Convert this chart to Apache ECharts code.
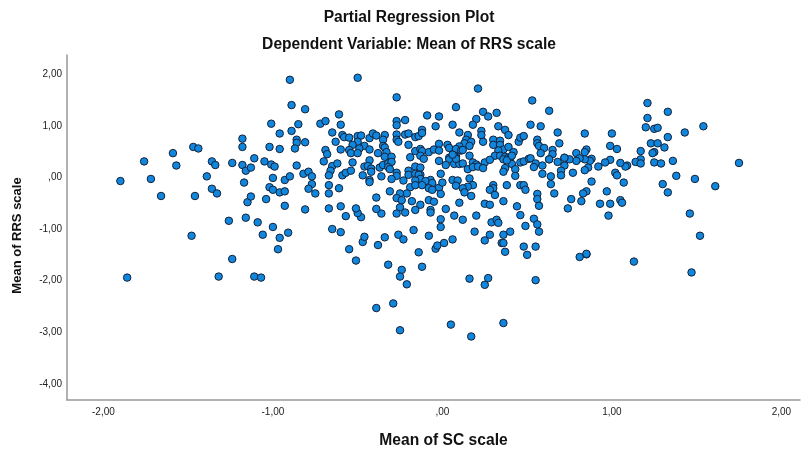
<!DOCTYPE html>
<html><head><meta charset="utf-8">
<style>html,body{margin:0;padding:0;background:#fff}#c{width:810px;height:451px}</style>
<script src="https://cdn.jsdelivr.net/npm/echarts@6/dist/echarts.min.js"></script>
</head><body><div id="c"></div>
<script>
const titleLines = ["Partial Regression Plot", "Dependent Variable: Mean of RRS scale"];
const xName = "Mean of SC scale";
const yName = "Mean of RRS scale";
const xTicks = [-2, -1, 0, 1, 2];
const yTicks = [-4, -3, -2, -1, 0, 1, 2];
const leftPoints = [
[-1.90,-0.07],[-1.76,0.31],[-1.72,-0.03],[-1.66,-0.36],[-1.59,0.47],[-1.57,0.23],[-1.48,-1.13],[-1.47,0.59],[-1.44,0.56],[-1.46,-0.36],
[-1.39,0.02],[-1.36,-0.22],[-1.33,-0.31],[-1.36,0.31],[-1.34,0.24],[-1.26,-0.84],[-1.24,0.28],[-1.18,0.59],[-1.18,0.75],[-1.18,0.24],
[-1.16,0.13],[-1.17,-0.10],[-1.16,-0.78],[-1.15,-0.48],[-1.13,-0.37],[-1.13,0.19],[-1.11,0.37],[-1.09,-0.87],[-1.06,-1.11],[-1.05,0.31],
[-1.04,-0.42],[-1.02,0.59],[-1.01,1.04],[-1.01,0.25],[-0.99,0.21],[-1.00,-0.96],[-1.02,-0.19],[-1.00,-0.24],[-1.00,-0.01],[-0.96,0.55],
[-0.96,0.85],[-0.96,-0.29],[-0.93,-0.27],[-0.93,-0.05],[-0.93,-0.55],[-0.96,-1.17],[-0.91,-1.07],[-0.90,1.89],[-0.89,1.40],[-0.81,1.32],
[-0.85,1.03],[-0.89,0.90],[-0.86,0.73],[-0.86,0.67],[-0.81,0.68],[-0.87,0.56],[-0.86,0.23],[-0.90,0.02],[-0.82,0.07],[-0.79,0.11],
[-0.77,0.02],[-0.77,-0.13],[-0.79,-0.22],[-0.75,-0.31],[-0.81,-0.62],[-0.72,1.04],[-1.86,-1.94],[-1.24,-1.58],[-1.32,-1.92],[-1.11,-1.92],
[-1.07,-1.94],[-0.97,-1.39]
];
const lowerPoints = [
[-0.65,-1.00],[-0.60,-1.06],[-0.55,-1.39],[-0.51,-1.61],[-0.47,-1.25],[-0.46,-1.15],[-0.38,-1.31],[-0.34,-1.16],[-0.26,-1.11],[-0.23,-1.20],
[-0.17,-1.02],[-0.08,-1.13],[-0.14,-1.45],[-0.12,-1.73],[-0.32,-1.69],[-0.24,-1.79],[-0.25,-1.92],[-0.21,-2.07],[-0.29,-2.44],[-0.39,-2.53],
[-0.25,-2.96],[-0.04,-1.38],[-0.03,-1.32],[0.01,-1.27],[0.06,-1.20],[0.16,-1.96],[0.05,-2.85],[0.17,-3.08],[0.25,-2.08],[0.27,-1.95],
[0.36,-2.82],[0.55,-1.99],[0.19,-1.05],[0.25,-1.22],[0.28,-1.11],[0.35,-1.27],[0.36,-1.27],[0.37,-1.44],[0.36,-1.11],[0.40,-1.05],
[0.48,-1.34],[0.55,-1.34],[0.50,-1.50],[0.57,-1.05],[0.81,-1.54],[0.85,-1.49],[0.85,-1.48],[1.13,-1.63],[1.47,-1.84],[1.52,-1.13]
];
const rightPoints = [
[0.63,1.29],[0.68,0.87],[0.69,0.66],[0.84,0.85],[1.00,0.85],[0.99,0.61],[1.03,0.55],[1.21,1.44],[1.21,1.15],[1.33,1.27],
[1.20,0.97],[1.25,0.94],[1.27,0.96],[1.33,0.78],[1.43,0.87],[1.54,0.99],[1.23,0.66],[1.27,0.66],[1.31,0.58],[1.17,0.51],
[1.25,0.49],[1.24,0.47],[1.17,0.35],[1.14,0.30],[1.17,0.27],[1.25,0.29],[1.29,0.27],[1.36,0.32],[1.75,0.28],[1.38,0.03],
[1.49,-0.03],[1.61,-0.17],[1.30,-0.13],[1.33,-0.29],[1.46,-0.70],[1.09,0.23],[1.08,0.21],[1.05,0.28],[0.99,0.34],[0.96,0.29],
[0.92,0.21],[0.88,0.36],[0.87,0.32],[0.86,0.19],[0.84,0.14],[0.85,0.54],[0.84,0.49],[0.79,0.47],[0.84,0.35],[0.81,0.37],
[0.79,0.32],[0.75,0.35],[0.72,0.38],[0.72,0.38],[0.68,0.30],[0.72,0.23],[0.65,0.53],[0.65,0.45],[0.63,0.35],[0.70,0.13],
[0.70,0.04],[0.77,0.09],[0.64,0.02],[0.64,-0.13],[0.66,-0.31],[0.88,-0.08],[1.02,0.09],[1.03,0.04],[1.07,-0.10],[0.97,-0.27],
[0.85,-0.27],[0.83,-0.31],[0.76,-0.42],[0.82,-0.46],[0.74,-0.60],[0.93,-0.51],[0.99,-0.51],[1.05,-0.44],[1.06,-0.49],[0.98,-0.74]
];
const centerLeftUpper = [
[-0.50,1.93],[-0.27,1.55],[-0.61,1.22],[-0.69,1.09],[-0.60,1.02],[-0.65,0.87],[-0.27,1.09],[-0.27,1.01],[-0.22,1.11],[-0.09,1.20],
[-0.02,1.18],[-0.04,0.99],[-0.63,0.69],[-0.59,0.82],[-0.58,0.78],[-0.55,0.77],[-0.50,0.80],[-0.48,0.81],[-0.43,0.76],[-0.41,0.85],
[-0.39,0.81],[-0.34,0.82],[-0.35,0.73],[-0.27,0.83],[-0.27,0.73],[-0.26,0.69],[-0.22,0.83],[-0.20,0.85],[-0.16,0.78],[-0.14,0.80],
[-0.12,0.92],[-0.12,0.86],[-0.50,0.69],[-0.53,0.63],[-0.46,0.61],[-0.49,0.56],[-0.60,0.54],[-0.69,0.53],[-0.68,0.45],[-0.55,0.53],
[-0.54,0.47],[-0.50,0.47],[-0.43,0.54],[-0.38,0.47],[-0.35,0.61],[-0.34,0.58],[-0.33,0.49],[-0.34,0.40],[-0.30,0.40],[-0.19,0.39],
[-0.20,0.63],[-0.16,0.51],[-0.13,0.55],[-0.12,0.51],[-0.13,0.42],[-0.11,0.36],[-0.08,0.49],[-0.05,0.54],[-0.02,0.65],[-0.02,0.52],
[-0.02,0.32]
];
const centerLeftLower = [
[-0.70,0.31],[-0.65,0.22],[-0.62,0.27],[-0.66,0.13],[-0.67,0.04],[-0.59,0.04],[-0.57,0.09],[-0.54,0.13],[-0.53,0.29],[-0.46,0.21],
[-0.43,0.33],[-0.44,0.22],[-0.42,0.17],[-0.42,0.11],[-0.47,0.04],[-0.43,-0.05],[-0.43,-0.09],[-0.36,0.02],[-0.37,0.19],[-0.35,0.24],
[-0.32,0.27],[-0.30,0.30],[-0.32,0.20],[-0.31,0.16],[-0.27,0.09],[-0.27,0.03],[-0.30,-0.03],[-0.23,-0.06],[-0.20,0.13],[-0.20,0.05],
[-0.16,0.21],[-0.13,0.19],[-0.16,0.07],[-0.13,0.05],[-0.14,0.05],[-0.13,-0.03],[-0.01,0.07],[-0.02,-0.20],[0.00,-0.10],[-0.07,-0.05],
[-0.10,-0.07],[-0.16,-0.06],[-0.19,-0.19],[-0.16,-0.15],[-0.12,-0.15],[-0.06,-0.11],[-0.08,-0.21],[-0.06,-0.24],[-0.01,-0.32],[-0.21,-0.31],
[-0.25,-0.31],[-0.31,-0.27],[-0.27,-0.40],[-0.24,-0.44],[-0.18,-0.46],[-0.08,-0.44],[-0.05,-0.47],[-0.13,-0.53],[-0.16,-0.63],[-0.07,-0.63],
[-0.07,-0.68],[-0.25,-0.58],[-0.27,-0.70],[-0.22,-0.68],[0.02,-0.61],[-0.01,-0.81],[-0.01,-0.96],[-0.39,-0.39],[-0.36,-0.70],[-0.39,-0.61],
[-0.48,-0.77],[-0.50,-0.69],[-0.51,-0.60],[-0.57,-0.75],[-0.60,-0.56],[-0.67,-0.60],[-0.67,-0.31],[-0.67,-0.15],[-0.61,-0.21]
];
const centerRightUpper = [
[0.21,1.72],[0.53,1.49],[0.08,1.36],[0.24,1.27],[0.32,1.25],[0.27,1.18],[0.20,1.13],[0.18,1.02],[0.06,1.02],[0.33,0.99],
[0.52,1.02],[0.58,0.99],[0.37,0.92],[0.39,0.82],[0.10,0.87],[0.15,0.82],[0.23,0.90],[0.23,0.82],[0.14,0.73],[0.17,0.69],
[0.13,0.66],[0.16,0.61],[0.24,0.69],[0.30,0.73],[0.30,0.63],[0.34,0.71],[0.34,0.63],[0.45,0.69],[0.46,0.77],[0.48,0.80],
[0.56,0.73],[0.56,0.66],[0.57,0.61],[0.60,0.57],[0.58,0.47],[0.03,0.63],[0.04,0.57],[0.10,0.60],[0.08,0.55],[0.11,0.52],
[0.36,0.54],[0.39,0.59],[0.42,0.49],[0.33,0.52],[0.31,0.42],[0.34,0.42],[0.37,0.40],[0.39,0.38],[0.16,0.42],[0.08,0.41],
[0.04,0.38],[0.12,0.53]
];
const centerRightLower = [
[0.04,0.35],[0.07,0.26],[0.10,0.26],[0.12,0.27],[0.02,0.24],[0.15,0.16],[0.18,0.29],[0.20,0.25],[0.18,0.20],[0.21,0.21],
[0.25,0.29],[0.24,0.18],[0.28,0.34],[0.36,0.35],[0.40,0.37],[0.37,0.18],[0.36,0.11],[0.41,0.26],[0.43,0.16],[0.43,0.03],
[0.46,0.29],[0.48,0.31],[0.51,0.36],[0.52,0.37],[0.55,0.27],[0.54,0.20],[0.59,0.23],[0.59,0.07],[0.63,0.35],[0.56,-0.32],
[0.56,-0.42],[0.57,-0.55],[0.06,-0.05],[0.09,-0.06],[0.08,-0.16],[0.16,-0.02],[0.18,-0.15],[0.15,-0.18],[0.12,-0.21],[0.13,-0.29],
[0.17,-0.36],[0.10,-0.49],[0.25,-0.51],[0.28,-0.53],[0.30,-0.15],[0.30,-0.21],[0.28,-0.24],[0.31,-0.34],[0.38,-0.15],[0.36,-0.46],
[0.46,-0.15],[0.48,-0.15],[0.49,-0.24],[0.44,-0.56],[0.46,-0.73],[0.54,-0.80],[0.56,-0.91],[0.49,-0.94],[0.07,-0.74],[0.12,-0.82],
[0.20,-0.74],[0.29,-0.87],[0.32,-0.82],[0.33,-0.88],[0.07,0.42],[0.08,0.36],[0.06,0.44],[0.38,0.33],[0.41,0.42]
];
const points = [...leftPoints, ...lowerPoints, ...rightPoints, ...centerLeftUpper, ...centerLeftLower, ...centerRightUpper, ...centerRightLower];
const fmt = v => { const s = Math.abs(v).toFixed(2).replace('.', ','); const t = Math.abs(v) < 1 ? s.replace(/^0/, '') : s; return (v < 0 ? '-' : '') + t; };
const font = '"Liberation Sans", Arial, sans-serif';
const chart = echarts.init(document.getElementById('c'), null, {renderer: 'canvas'});
const axisCommon = {
  type: 'value', nameLocation: 'middle',
  axisLine: {show: true, onZero: false, lineStyle: {color: '#999', width: 1.5}},
  axisTick: {show: false}, splitLine: {show: false}
};
chart.setOption({
  backgroundColor: '#fff', animation: false,
  title: [
    {text: titleLines[0], left: 404, top: 5, textAlign: 'center', textStyle: {fontFamily: font, fontWeight: 'bold', fontSize: 15.6, color: '#111'}},
    {text: titleLines[1], left: 404, top: 32, textAlign: 'center', textStyle: {fontFamily: font, fontWeight: 'bold', fontSize: 15.6, color: '#111'}}
  ],
  grid: {left: 67, right: 10, top: 55, bottom: 51, outerBoundsMode: 'none'},
  xAxis: {...axisCommon, name: xName, nameGap: 33, min: -2.215, max: 2.11,
    nameTextStyle: {fontFamily: font, fontWeight: 'bold', fontSize: 15.6, color: '#111', padding: [0, 0, 0, 20]},
    axisLabel: {customValues: xTicks, formatter: fmt, fontFamily: font, fontSize: 10, color: '#222', margin: 7}},
  yAxis: {...axisCommon, name: yName, nameGap: 43, min: -4.31, max: 2.37,
    nameTextStyle: {fontFamily: font, fontWeight: 'bold', fontSize: 13, color: '#111', padding: [0, 16, 0, 0]},
    axisLabel: {customValues: yTicks, formatter: fmt, fontFamily: font, fontSize: 10, color: '#222', margin: 5}},
  series: [{type: 'scatter', data: points, symbol: 'circle', symbolSize: 7.5,
    itemStyle: {color: '#1087dc', borderColor: '#14213a', borderWidth: 1, opacity: 1}}]
});
</script></body></html>
